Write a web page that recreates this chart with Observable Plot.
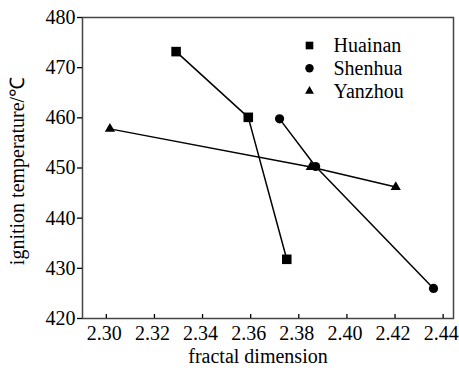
<!DOCTYPE html>
<html><head><meta charset="utf-8">
<script src="https://cdn.jsdelivr.net/npm/d3@7"></script>
<script src="https://cdn.jsdelivr.net/npm/@observablehq/plot@0.6"></script>
<style>
body{margin:0;background:#fff}
#chart svg, #chart svg text {font-family: "Liberation Serif", "Times New Roman", serif !important;}
</style>
</head><body><div id="chart"></div>
<script>
const seriesNames = ["Huainan", "Shenhua", "Yanzhou"];
const seriesSymbols = ["square", "circle", "triangle"];
const huainanX = [2.329, 2.359, 2.375];
const huainanY = [473.2, 460.1, 431.8];
const shenhuaX = [2.372, 2.387, 2.436];
const shenhuaY = [459.8, 450.3, 426.0];
const yanzhouX = [2.3015, 2.385, 2.4203];
const yanzhouY = [457.8, 450.2, 446.2];
const xTicks = [2.30, 2.32, 2.34, 2.36, 2.38, 2.40, 2.42, 2.44];
const yTicks = [420, 430, 440, 450, 460, 470, 480];
const xLabel = "fractal dimension";
const yLabel = "ignition temperature/℃";

const seriesX = [huainanX, shenhuaX, yanzhouX];
const seriesY = [huainanY, shenhuaY, yanzhouY];
const rows = seriesNames.flatMap((name, i) => seriesX[i].map((x, j) => ({name, x, y: seriesY[i][j]})));
const rByName = {Huainan: 5.4, Shenhua: 4.6, Yanzhou: 3.8};

const marks = [
  Plot.frame({stroke: "#444", strokeWidth: 1.5}),
  Plot.axisX({ticks: xTicks, tickFormat: d3.format(".2f"), tickSize: -4, tickPadding: 11, label: null, strokeWidth: 1.3, textStroke: "none"}),
  Plot.axisX({ticks: xTicks, tickFormat: null, tickSize: 0, label: null, text: null}),
  Plot.axisY({ticks: yTicks, tickSize: 5, tickPadding: 2, label: null, strokeWidth: 1.3}),
  Plot.line(rows, {x: "x", y: "y", z: "name", stroke: "#000", strokeWidth: 1.5}),
  ...seriesNames.map((name, i) => Plot.dot(rows.filter(d => d.name === name), {x: "x", y: "y", symbol: () => seriesSymbols[i], r: rByName[name], fill: "#000", stroke: "none"})),
  Plot.text([xLabel], {frameAnchor: "bottom", text: d => d, dy: 38, dx: -10, fontSize: 20, lineAnchor: "middle", textAnchor: "middle"}),
  Plot.text([yLabel], {frameAnchor: "left", text: d => d, rotate: -90, dx: -65, dy: 3, fontSize: 20, textAnchor: "middle", lineAnchor: "middle"}),
  ...seriesNames.flatMap((name, i) => [
    Plot.dot([name], {frameAnchor: "top-left", dx: 227, dy: 28 + i * 22.8, symbol: () => seriesSymbols[i], r: i === 0 ? 4.3 : i === 1 ? 4.2 : 3.3, fill: "#000", stroke: "none"}),
    Plot.text([name], {frameAnchor: "top-left", dx: 251, dy: 28 + i * 22.8, text: d => d, textAnchor: "start", lineAnchor: "middle", fontSize: 20})
  ])
];

const chart = Plot.plot({
  width: 459, height: 368,
  marginLeft: 82, marginRight: 6, marginTop: 17, marginBottom: 50,
  x: {domain: [2.2901, 2.4443]},
  y: {domain: [420, 480]},
  symbol: {type: "identity"},
  style: {fontFamily: "'Liberation Serif', serif", fontSize: "20px", color: "#000", background: "#fff"},
  marks
});
// shift x tick labels slightly left as in the reference
chart.querySelectorAll("[aria-label='x-axis tick label']").forEach(g => g.setAttribute("transform", (g.getAttribute("transform") || "") + " translate(-2,0)"));
document.getElementById("chart").appendChild(chart);
</script>
</body></html>
